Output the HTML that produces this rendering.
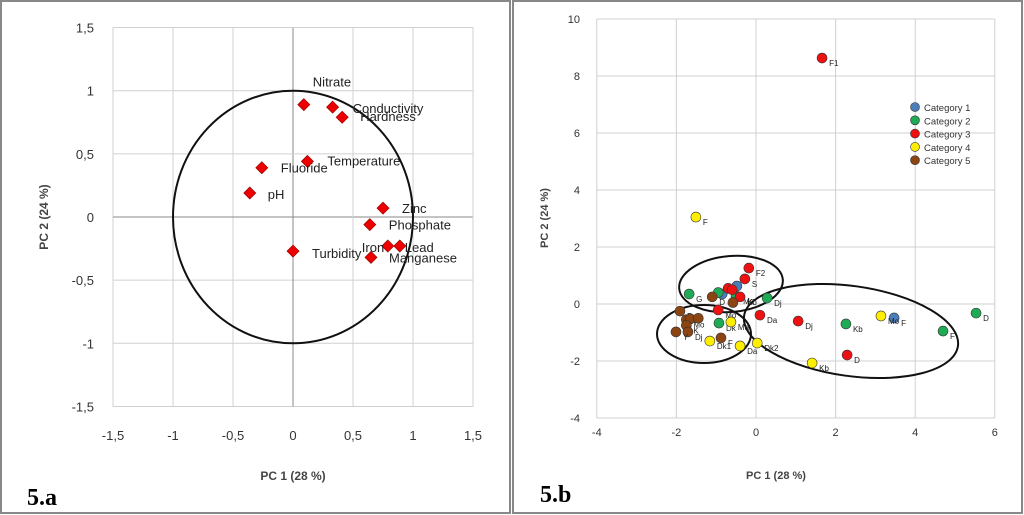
<!DOCTYPE html>
<html><head><meta charset="utf-8"><style>
body{margin:0;background:#fff;}
svg{display:block;font-family:"Liberation Sans",sans-serif;}
</style></head><body>
<svg id="s" width="1024" height="515" viewBox="0 0 1024 515">
<rect x="1" y="1" width="509" height="512" fill="#fff" stroke="#888" stroke-width="2"/>
<rect x="513" y="1" width="509" height="512" fill="#fff" stroke="#888" stroke-width="2"/>
<g id="ga"></g>
<g id="gb"></g>
<text x="27" y="505" font-family="Liberation Serif,serif" font-weight="bold" font-size="24">5.a</text>
<text x="540" y="502" font-family="Liberation Serif,serif" font-weight="bold" font-size="24">5.b</text>
</svg>
<script>
const NS="http://www.w3.org/2000/svg";
function mk(p,t,a,txt){const e=document.createElementNS(NS,t);for(const k in a)e.setAttribute(k,a[k]);if(txt!==undefined)e.textContent=txt;p.appendChild(e);return e;}
// ---- chart a data ----
const varNames=["Nitrate","Conductivity","Hardness","Temperature","Fluoride","pH","Zinc","Phosphate","Iron","Lead","Manganese","Turbidity"];
const pc1Load=[0.09,0.33,0.41,0.12,-0.26,-0.36,0.75,0.64,0.79,0.89,0.65,0.0];
const pc2Load=[0.89,0.87,0.79,0.44,0.39,0.19,0.07,-0.06,-0.23,-0.23,-0.32,-0.27];
const labelDx=[9,20,18,20,19,18,19,19,-26,5,18,19];
const labelDy=[-18,6,4,4,5,6,5,5,6,6,5,7];
const axTicks=[-1.5,-1,-0.5,0,0.5,1,1.5];
const ga=document.getElementById('ga');
const ax=v=>293+v*120, ay=v=>217-v*126.3;
axTicks.forEach(t=>{
 const l1=mk(ga,'line',{x1:ax(t),x2:ax(t),y1:ay(1.5),y2:ay(-1.5),stroke:t===0?'#888':'#d0d0d0'});
 
 const l2=mk(ga,'line',{x1:ax(-1.5),x2:ax(1.5),y1:ay(t),y2:ay(t),stroke:t===0?'#888':'#d0d0d0'});
 
 const s=String(t).replace('.',',');
 const a=mk(ga,'text',{x:ax(t),y:440,'text-anchor':'middle','font-size':13,fill:'#333'},s);
 
 const b=mk(ga,'text',{x:94,y:ay(t)+5,'text-anchor':'end','font-size':13,fill:'#333'},s);
 
});
const circ=mk(ga,'ellipse',{cx:ax(0),cy:ay(0),rx:120,ry:126.3,fill:'none',stroke:'#111','stroke-width':2});

varNames.forEach((n,i)=>{
 const x=ax(pc1Load[i]),y=ay(pc2Load[i]);
 const d=mk(ga,'path',{d:`M${x},${y-6}L${x+6},${y}L${x},${y+6}L${x-6},${y}Z`,fill:'#e00',stroke:'#900','stroke-width':0.7});
 
 const t=mk(ga,'text',{x:x+labelDx[i],y:y+labelDy[i],'font-size':13,fill:'#222'},n);
 
});
let t1=mk(ga,'text',{x:293,y:480,'text-anchor':'middle','font-size':12,'font-weight':'bold',fill:'#444'},'PC 1 (28 %)');

let t2=mk(ga,'text',{x:48,y:217,'text-anchor':'middle','font-size':12,'font-weight':'bold',fill:'#444',transform:'rotate(-90 48 217)'},'PC 2 (24 %)');

// ---- chart b data ----
const catColors=['#4a7ebb','#1faa55','#ee1111','#ffee00','#8b4513'];
const catNames=['Category 1','Category 2','Category 3','Category 4','Category 5'];
const ptCat=[0,0,0, 1,1,1,1,1,1,1,1, 2,2,2,2,2,2,2,2,2,2, 3,3,3,3,3,3,3, 4,4,4,4,4,4,4,4,4,4];
const ptX=[3.47,-0.85,-0.48, 5.53,4.7,2.26,0.28,-1.68,-0.93,-0.95,-0.5, -0.18,-0.28,-0.7,-0.4,-0.95,0.1,1.06,2.29,1.66,-0.6, -1.51,3.14,1.41,0.03,-0.4,-0.63,-1.16, -1.91,-1.75,-1.65,-1.45,-1.75,-1.71,-2.01,-0.88,-1.1,-0.58];
const ptY=[-0.49,0.35,0.63, -0.32,-0.95,-0.7,0.21,0.35,-0.67,0.4,0.28, 1.26,0.88,0.55,0.25,-0.21,-0.39,-0.6,-1.79,8.63,0.5, 3.05,-0.42,-2.07,-1.37,-1.47,-0.63,-1.3, -0.25,-0.55,-0.52,-0.5,-0.75,-0.98,-0.98,-1.19,0.25,0.05];
const ptLabel=['F','','', 'D','F','Kb','Dj','G','Dk','','Mo', 'F2','S','','Kb','Mo','Da','Dj','D','F1','', 'F','Mo','Kb','Dk2','Da','Ma','Dk1', 'B','Mo','','','K','Dj','Y','F','D',''];
const bxTicks=[-4,-2,0,2,4,6];
const byTicks=[-4,-2,0,2,4,6,8,10];
const gb=document.getElementById('gb');
const bx=v=>756+v*39.8, by=v=>304-v*28.5;
bxTicks.forEach(t=>{
 const l=mk(gb,'line',{x1:bx(t),x2:bx(t),y1:by(10),y2:by(-4),stroke:'#d0d0d0'});
 
 const a=mk(gb,'text',{x:bx(t),y:436,'text-anchor':'middle','font-size':11,fill:'#333'},String(t));
 
});
byTicks.forEach(t=>{
 const l=mk(gb,'line',{x1:bx(-4),x2:bx(6),y1:by(t),y2:by(t),stroke:'#d0d0d0'});
 
 const a=mk(gb,'text',{x:580,y:by(t)+4,'text-anchor':'end','font-size':11,fill:'#333'},String(t));
 
});
[['ellipse',{cx:731,cy:284,rx:52,ry:28,transform:'rotate(-5 731 284)'},'cluster-ellipse-top'],
 ['ellipse',{cx:704,cy:334,rx:47,ry:29},'cluster-ellipse-left'],
 ['ellipse',{cx:851,cy:331,rx:108,ry:45,transform:'rotate(8 851 331)'},'cluster-ellipse-right']].forEach(e=>{
 e[1].fill='none';e[1].stroke='#111';e[1]['stroke-width']=2;
 const el=mk(gb,e[0],e[1]);
 
});
ptX.forEach((v,i)=>{
 const x=bx(v),y=by(ptY[i]);
 const c=mk(gb,'circle',{cx:x,cy:y,r:5,fill:catColors[ptCat[i]],stroke:'#333','stroke-width':0.6});
 
 if(ptLabel[i]){const t=mk(gb,'text',{x:x+7,y:y+8,'font-size':8,fill:'#222'},ptLabel[i]);
 }
});
catNames.forEach((n,i)=>{
 const c=mk(gb,'circle',{cx:915,cy:107+i*13.3,r:4.5,fill:catColors[i],stroke:'#333','stroke-width':0.6});
 
 const t=mk(gb,'text',{x:924,y:111+i*13.3,'font-size':9.5,fill:'#333'},n);
 
});
t1=mk(gb,'text',{x:776,y:479,'text-anchor':'middle','font-size':11,'font-weight':'bold',fill:'#444'},'PC 1 (28 %)');

t2=mk(gb,'text',{x:548,y:218,'text-anchor':'middle','font-size':11,'font-weight':'bold',fill:'#444',transform:'rotate(-90 548 218)'},'PC 2 (24 %)');

</script>
</body></html>
